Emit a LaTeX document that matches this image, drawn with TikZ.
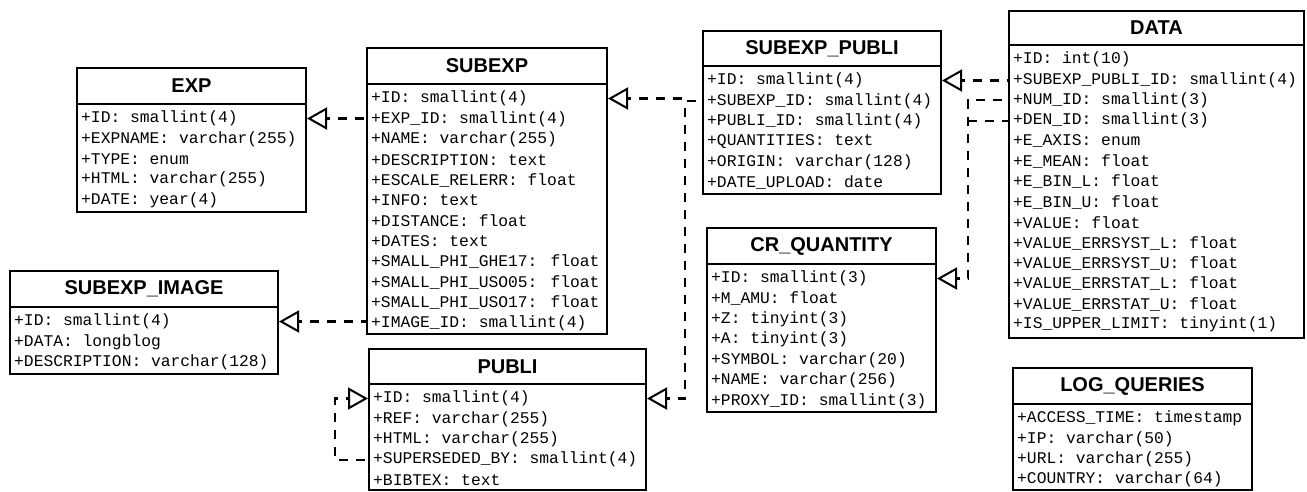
\documentclass[tikz,border=0pt]{standalone}
\usepackage{fontspec}
\newfontfamily\hfont{Liberation Sans}
\newfontfamily\rfont{Liberation Mono}
\usetikzlibrary{arrows.meta}
\tikzset{
 tblhead/.style={draw, line width=2pt, inner sep=0pt, font=\hfont\bfseries\fontsize{20}{24}\selectfont},
 tblbody/.style={draw, line width=2pt, inner sep=0pt},
 rowtext/.style={inner sep=0pt, anchor=west, font=\rfont\fontsize{16.3}{20}\selectfont},
 dep/.style={line width=2.2pt, dash pattern=on 9pt off 8pt, dash phase=6pt,
   {Triangle[open, length=20pt, width=22pt, line width=2pt]}-}
}
\newcommand\umltable[8]{%
 \node[tblhead, minimum width={#4-#2}, minimum height={#5-#3}, anchor=north west] (#1-h) at (#2,#3) {#7};
 \node[tblbody, minimum width={#4-#2}, minimum height={#6-#5}, anchor=north west] (#1) at (#2,#5) {};
 \foreach \t [count=\i] in {#8} {\node[rowtext] (#1-\i) at ({#2+5},{#5+15.5+(\i-1)*20.4}) {\t};}
}
\begin{document}
\begin{tikzpicture}[x=1pt,y=-1pt]
\useasboundingbox (0,0) rectangle (1307,491);
\umltable{exp}{76}{67}{305}{103}{211}{EXP}{+ID: smallint(4),+EXPNAME: varchar(255),+TYPE: enum,+HTML: varchar(255),+DATE: year(4)}
\umltable{img}{9}{270}{277}{306}{373}{SUBEXP\_IMAGE}{+ID: smallint(4),+DATA: longblog,+DESCRIPTION: varchar(128)}
\umltable{subexp}{366}{47}{606}{83}{333}{SUBEXP}{+ID: smallint(4),+EXP\_ID: smallint(4),+NAME: varchar(255),+DESCRIPTION: text,+ESCALE\_RELERR: float,+INFO: text,+DISTANCE: float,+DATES: text,+SMALL\_PHI\_GHE17: float,+SMALL\_PHI\_USO05: float,+SMALL\_PHI\_USO17: float,+IMAGE\_ID: smallint(4)}
\umltable{sp}{702}{30}{940}{65}{193}{SUBEXP\_PUBLI}{+ID: smallint(4),+SUBEXP\_ID: smallint(4),+PUBLI\_ID: smallint(4),+QUANTITIES: text,+ORIGIN: varchar(128),+DATE\_UPLOAD: date}
\umltable{data}{1008}{10}{1303}{44}{337}{DATA}{+ID: int(10),+SUBEXP\_PUBLI\_ID: smallint(4),+NUM\_ID: smallint(3),+DEN\_ID: smallint(3),+E\_AXIS: enum,+E\_MEAN: float,+E\_BIN\_L: float,+E\_BIN\_U: float,+VALUE: float,+VALUE\_ERRSYST\_L: float,+VALUE\_ERRSYST\_U: float,+VALUE\_ERRSTAT\_L: float,+VALUE\_ERRSTAT\_U: float,+IS\_UPPER\_LIMIT: tinyint(1)}
\umltable{cr}{706}{227}{935}{263}{411}{CR\_QUANTITY}{+ID: smallint(3),+M\_AMU: float,+Z: tinyint(3),+A: tinyint(3),+SYMBOL: varchar(20),+NAME: varchar(256),+PROXY\_ID: smallint(3)}
\umltable{publi}{368}{348}{645}{383}{489}{PUBLI}{+ID: smallint(4),+REF: varchar(255),+HTML: varchar(255),+SUPERSEDED\_BY: smallint(4),+BIBTEX: text}
\umltable{log}{1012}{367}{1251}{403}{489}{LOG\_QUERIES}{+ACCESS\_TIME: timestamp,+IP: varchar(50),+URL: varchar(255),+COUNTRY: varchar(64)}
\coordinate (j2) at (685,0);
\coordinate (j3) at (968,0);
\coordinate (j4) at (335,0);
\draw[dep] (exp.east |- exp-1) -- (subexp.west |- exp-1);
\draw[dep] (img.east |- img-1) -- (subexp.west |- img-1);
\draw[dep] (subexp.east |- subexp-1) -- (j2 |- subexp-1) -- (j2 |- sp-2) -- (sp.west |- sp-2);
\draw[dep] (publi.east |- publi-1) -- (j2 |- publi-1) -- (j2 |- sp-2);
\draw[dep] (sp.east |- sp-1) -- (data.west |- sp-1);
\draw[dep] (cr.east |- cr-1) -- (j3 |- cr-1) -- (j3 |- data-3) -- (data.west |- data-3);
\draw[line width=2.2pt, dash pattern=on 9pt off 8pt] (j3 |- data-4) -- (data.west |- data-4);
\draw[dep] (publi.west |- publi-1) -- (j4 |- publi-1) -- (j4 |- publi-4) -- (publi.west |- publi-4);
\end{tikzpicture}
\end{document}
